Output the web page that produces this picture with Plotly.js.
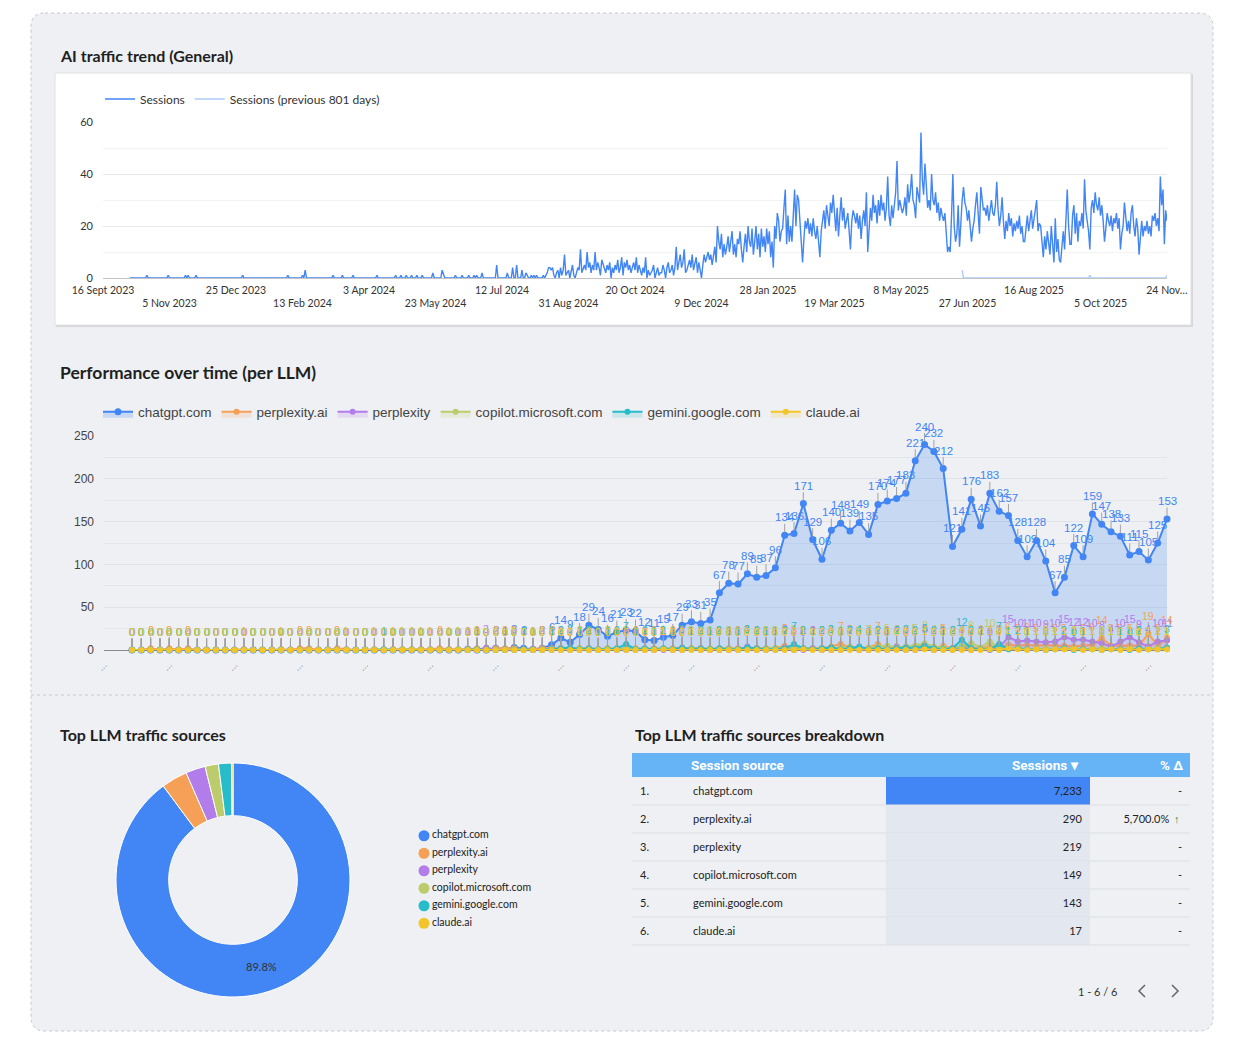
<!DOCTYPE html>
<html><head><meta charset="utf-8">
<script src="https://cdn.plot.ly/plotly-3.0.1.min.js"></script>
<style>html,body{margin:0;padding:0;background:#fff;}#chart{width:1234px;height:1050px;}</style>
</head><body><div id="chart"></div>
<script>
// ---------------- DATA ----------------
const dailyStart = '2023-09-16';
const dailySessions = [
null,null,null,null,null,null,null,
null,null,null,null,null,null,null,
null,null,null,null,null,null,0,
0,0,0,0,0,0,0,
0,0,0,0,0,1,0,
0,0,0,0,0,0,0,
0,0,0,0,0,0,0,
1,0,0,0,0,0,0,
0,0,0,0,0,0,1,
0,1,0,0,0,0,0,
1,0,0,0,0,0,0,
0,0,0,0,0,0,0,
0,0,0,0,0,0,0,
0,0,0,0,0,0,0,
0,0,0,0,0,0,0,
1,0,0,0,0,0,0,
0,0,0,0,0,0,0,
0,0,0,0,0,0,0,
0,0,0,0,0,0,0,
0,0,0,0,0,0,1,
0,0,0,0,0,0,0,
0,0,0,1,0,3,0,
0,0,0,0,0,0,0,
0,0,0,0,0,0,0,
0,0,0,0,0,1,0,
0,0,0,0,0,1,0,
0,0,0,0,0,0,1,
0,0,0,0,0,0,0,
0,0,0,0,0,0,0,
0,0,0,1,0,0,0,
0,0,0,0,0,0,0,
0,0,0,1,0,0,0,
1,0,0,0,1,0,0,
0,1,0,0,0,1,0,
0,0,1,0,0,0,0,
0,0,0,2,0,0,0,
0,0,0,3,1,0,0,
0,0,0,0,0,0,1,
0,0,0,0,1,0,0,
0,0,1,0,0,0,1,
0,1,0,0,0,2,0,
0,0,0,0,0,0,0,
0,0,5,0,0,0,0,
0,0,0,2,0,0,0,
4,0,0,5,0,0,0,
3,0,0,2,1,0,0,
1,0,1,0,1,0,0,
0,0,1,0,1,2,4,
4,3,4,1,0,2,3,
0,4,1,3,9,1,2,
3,0,2,5,1,0,2,
4,3,11,2,4,5,3,
10,4,6,2,5,3,10,
3,6,4,1,7,5,3,
2,5,3,6,0,4,2,
5,3,7,2,4,8,1,
6,4,7,3,5,2,4,
6,3,8,2,5,3,1,
4,2,8,0,3,1,2,
3,5,0,2,4,1,2,
2,5,3,0,4,6,2,
3,5,1,4,12,3,6,
9,4,6,11,2,3,5,
7,4,9,3,5,8,2,
6,3,0,5,9,6,8,
10,7,9,5,8,12,6,
20,14,11,17,8,13,9,
12,16,10,14,18,9,13,
8,15,13,18,11,6,12,
17,10,20,14,12,19,9,
14,20,11,17,8,19,12,
16,10,19,13,18,8,14,
4,20,15,25,22,14,18,
19,27,34,13,24,14,20,
14,27,34,20,32,30,22,
18,6,15,22,19,23,17,
21,16,23,18,15,20,12,
8,18,22,26,19,28,24,
20,29,25,32,24,18,27,
16,24,31,22,27,19,23,
25,18,11,22,26,24,21,
25,19,24,15,22,26,20,
33,10,20,27,22,32,25,
28,21,30,24,32,26,29,
22,27,39,24,20,28,23,
29,33,45,26,30,28,25,
27,31,24,36,29,33,40,
30,28,23,35,31,29,56,
38,32,44,36,27,30,26,
40,30,28,33,25,29,22,
27,24,22,25,18,10,12,
10,24,40,20,14,17,28,
12,22,30,35,29,27,22,
26,20,14,19,22,28,33,
25,17,35,29,26,27,24,
28,22,26,30,25,24,28,
37,26,20,24,31,22,15,
22,18,25,20,23,16,21,
18,22,19,24,17,20,14,
14,20,24,18,22,26,19,
23,28,30,18,21,20,13,
8,16,11,18,14,9,20,
12,6,23,10,15,7,6,
14,18,11,22,34,20,13,
13,24,28,17,25,14,22,
20,25,19,38,26,22,18,
11,27,30,25,33,28,26,
31,24,28,22,14,19,25,
22,20,24,18,23,21,25,
19,23,11,17,20,29,24,
18,22,17,25,28,20,16,
23,19,9,17,22,16,20,
18,22,17,20,16,24,22,
25,20,23,18,39,28,34,
13,26,22
];
// previous period, starts at day offset 646 of the current window
const prevStartDay = 646;
const prevSessions = [
3,0,0,0,0,0,0,0,0,0,
0,0,0,0,0,0,0,0,0,0,
0,0,0,0,0,0,0,0,0,0,
0,0,0,0,0,0,0,0,0,0,
0,0,0,0,0,0,0,0,0,0,
0,0,0,0,0,0,0,0,0,0,
0,0,0,0,0,0,0,0,0,0,
0,0,0,0,0,0,0,0,0,0,
0,0,0,0,0,0,0,0,0,0,
0,0,0,0,0,0,1,0,0,0,
0,0,0,0,0,0,0,0,0,0,
0,0,0,0,0,0,0,0,0,0,
0,0,0,0,0,0,0,0,0,0,
0,0,0,0,0,0,0,0,0,0,
0,0,0,0,0,0,0,0,0,0,
0,0,0,0,1
];
const topTickDates = ['2023-09-16','2023-11-05','2023-12-25','2024-02-13','2024-04-03','2024-05-23','2024-07-12','2024-08-31','2024-10-20','2024-12-09','2025-01-28','2025-03-19','2025-05-08','2025-06-27','2025-08-16','2025-10-05','2025-11-24'];
const topTickLabels = ['16 Sept 2023','5 Nov 2023','25 Dec 2023','13 Feb 2024','3 Apr 2024','23 May 2024','12 Jul 2024','31 Aug 2024','20 Oct 2024','9 Dec 2024','28 Jan 2025','19 Mar 2025','8 May 2025','27 Jun 2025','16 Aug 2025','5 Oct 2025','24 Nov…'];

const sources = ['chatgpt.com','perplexity.ai','perplexity','copilot.microsoft.com','gemini.google.com','claude.ai'];
const sourceColors = ['#4285f4','#f6a057','#b27cea','#bccb6b','#27bcc9','#f2c62b'];
const totalSessions = [7233,290,219,149,143,17];
const pctChange = ['-','5,700.0%','-','-','-','-'];
const pctUp = [false,true,false,false,false,false];
const tableHeaders = ['Session source','Sessions ▾','% Δ'];

const wkChatgpt = [
null,null,null,0,0,0,0,0,0,0,
0,0,0,0,0,0,0,0,0,0,
0,0,0,0,0,0,0,0,0,0,
0,0,0,0,0,0,0,0,0,1,
0,0,2,1,3,2,1,2,6,14,
9,18,29,24,16,21,23,22,12,11,
15,17,29,33,31,35,67,78,77,89,
85,87,96,134,136,171,129,106,140,148,
139,149,135,170,174,177,183,221,240,232,
212,121,141,176,145,183,162,157,128,109,
128,104,67,85,122,109,159,147,138,133,
111,115,105,125,153];
const wkPerplexityAi = [
null,null,null,0,0,2,0,2,0,2,
0,0,0,0,0,1,0,0,0,1,
0,2,2,0,0,2,1,0,0,1,
0,1,1,1,1,1,2,1,1,1,
2,0,2,2,2,1,1,2,2,2,
1,2,2,1,2,1,2,2,1,2,
1,2,2,2,2,1,2,2,2,3,
2,2,2,5,2,2,2,2,4,7,
3,2,3,7,2,4,2,5,4,2,
5,2,4,3,2,4,2,6,5,6,
5,6,5,5,4,5,6,14,5,5,
5,5,19,5,14];
const wkPerplexity = [
null,null,null,0,0,0,0,0,0,0,
0,0,0,0,0,0,0,0,0,0,
0,0,0,0,0,0,0,0,0,0,
0,0,0,0,0,0,0,0,0,0,
0,3,0,0,0,0,0,0,0,0,
0,0,0,0,0,0,0,0,1,0,
0,0,0,1,0,0,0,0,0,4,
0,0,0,3,0,0,2,0,0,0,
3,0,0,2,0,4,0,0,3,0,
2,0,3,0,2,0,3,15,10,11,
10,9,10,15,12,12,10,8,4,10,
15,9,4,10,11];
const wkCopilot = [
null,null,null,0,0,0,0,0,0,0,
0,0,0,0,0,0,0,0,0,0,
0,0,0,0,0,0,0,0,0,0,
0,0,1,1,0,0,0,0,1,0,
0,0,0,0,1,0,0,0,1,0,
1,2,1,0,2,1,2,1,0,1,
2,1,1,2,1,2,1,2,1,2,
1,2,2,2,3,2,1,2,3,2,
4,2,3,4,5,3,4,5,8,4,
3,2,4,8,3,10,3,1,2,1,
1,2,1,1,2,1,1,2,1,1,
2,1,1,2,1];
const wkGemini = [
null,null,null,0,0,0,0,0,0,0,
0,0,0,0,0,0,0,0,0,0,
0,0,0,0,0,0,0,0,0,0,
1,0,0,0,0,0,0,0,0,0,
1,0,0,0,0,1,0,0,1,2,
3,1,2,1,1,2,7,1,2,1,
2,1,3,1,2,1,2,1,1,3,
2,1,1,2,7,2,1,2,3,1,
2,4,1,2,1,2,3,2,5,2,
1,2,12,2,1,1,7,1,2,1,
1,0,1,2,0,1,1,0,1,1,
0,2,1,1,3];
const wkClaude = [
null,null,null,0,0,0,0,0,0,0,
0,0,0,0,0,0,0,0,0,0,
0,0,0,0,0,0,0,0,0,0,
0,0,0,0,0,0,0,0,0,0,
0,0,0,0,0,0,0,0,0,0,
0,0,0,0,0,0,0,0,0,0,
1,0,0,0,0,0,0,0,0,0,
0,0,0,0,0,1,0,0,0,0,
0,0,0,0,0,0,0,0,1,0,
0,0,0,0,0,1,0,2,1,0,
1,0,1,1,1,0,1,0,1,0,
1,0,1,1,1];
const weeklySeries = [wkChatgpt, wkPerplexityAi, wkPerplexity, wkCopilot, wkGemini, wkClaude];
const weekTickIdx = [0,7,14,21,28,35,42,49,56,63,70,77,84,91,98,105,112];
const weekTickLabels = weekTickIdx.map(()=> '...');

// ---------------- HELPERS ----------------
const W=1234, H=1050;
const px = x => x/W, py = y => 1 - y/H;
function dayStr(offset){
  const d = new Date(dailyStart + 'T00:00:00Z');
  d.setUTCDate(d.getUTCDate() + offset);
  return d.toISOString().slice(0,10);
}
const dailyDates = dailySessions.map((_, i) => dayStr(i));
const prevDates = prevSessions.map((_, i) => dayStr(prevStartDay + i));
const weekIdx = wkChatgpt.map((_, i) => i);
function P(pts){ return 'M ' + pts.map(p => px(p[0]) + ',' + py(p[1])).join(' L '); }
function roundRect(x0,y0,x1,y1,r){
  const c = (x,y) => px(x)+','+py(y);
  return 'M '+c(x0+r,y0)+' L '+c(x1-r,y0)+' Q '+c(x1,y0)+' '+c(x1,y0+r)+
    ' L '+c(x1,y1-r)+' Q '+c(x1,y1)+' '+c(x1-r,y1)+' L '+c(x0+r,y1)+
    ' Q '+c(x0,y1)+' '+c(x0,y1-r)+' L '+c(x0,y0+r)+' Q '+c(x0,y0)+' '+c(x0+r,y0)+' Z';
}
function rgba(hex,a){
  const n = parseInt(hex.slice(1),16);
  return 'rgba('+((n>>16)&255)+','+((n>>8)&255)+','+(n&255)+','+a+')';
}

const CAL = 'Lato, "Open Sans", sans-serif';
const ARIAL = '"Liberation Sans", Arial, sans-serif';
const bg = '#eef0f3';

// ---------------- TRACES ----------------
const data = [];
data.push({type:'scatter', mode:'lines', x: prevDates, y: prevSessions, name:'Sessions (previous 801 days)',
  line:{color:'#aecbfa', width:1.4}, legend:'legend', legendrank:2, xaxis:'x', yaxis:'y'});
data.push({type:'scatter', mode:'lines', x: dailyDates, y: dailySessions, name:'Sessions',
  line:{color:'#4285f4', width:1.4}, legend:'legend', legendrank:1, xaxis:'x', yaxis:'y', connectgaps:false});

weeklySeries.forEach((arr, s) => {
  data.push({type:'scatter', mode:'lines+markers', x: weekIdx, y: arr, name: sources[s],
    xaxis:'x2', yaxis:'y2', legend:'legend2', cliponaxis:false,
    line:{color: sourceColors[s], width:2},
    marker:{color: sourceColors[s], size: s===0 ? 7 : 6},
    fill:'tozeroy', fillcolor: rgba(sourceColors[s], s===0 ? 0.22 : 0.18)});
});

data.push({type:'pie', values: totalSessions, labels: sources, sort:false, direction:'clockwise', rotation:0,
  hole:0.55, marker:{colors: sourceColors, line:{color:'#ffffff', width:1}},
  domain:{x:[px(116), px(350)], y:[py(997), py(763)]},
  texttemplate: sources.map((_, i) => i===0 ? '%{percent:.1%}' : ''),
  textposition:'inside', insidetextorientation:'horizontal',
  textfont:{family:CAL, size:11, color:'#333'}, showlegend:false});

// donut legend (circle swatches + names)
data.push({type:'scatter', mode:'markers+text', x: sources.map(()=>0), y: sources.map((_, i)=>i),
  text: sources, textposition:'middle right', xaxis:'x3', yaxis:'y3', showlegend:false, cliponaxis:false,
  marker:{color: sourceColors, size:11, symbol:'circle'},
  textfont:{family:CAL, size:10.5, color:'#222'}, hoverinfo:'skip'});

// table (text layer; header bar and heat-coloured Sessions cells drawn behind it)
const tableTop = 753, headerH = 24, rowH = 28, bodyTop = tableTop + headerH;
const rowNums = sources.map((_, i) => (i+1) + '.');
const sessFmt = totalSessions.map(v => v.toLocaleString('en-US'));
const pctFmt = pctChange.map((v, i) => pctUp[i] ? v + '\u2007\u2007' : v);
data.push({type:'table',
  domain:{x:[px(632), px(1190)], y:[py(bodyTop + rowH*6 + 10), py(bodyTop - 14)]},
  columnwidth:[53, 201, 204, 100],
  header:{values:[], height:0, line:{width:0}, fill:{color:'rgba(0,0,0,0)'}},
  cells:{values:[rowNums, sources, sessFmt, pctFmt],
    align:['left','left','right','right'], height:rowH,
    fill:{color:'rgba(0,0,0,0)'}, line:{color:'rgba(0,0,0,0)', width:0},
    font:{family:CAL, size:11, color:'#222'}}
});

// ---------------- ANNOTATIONS ----------------
const annotations = [];
[['AI traffic trend (General)', 60, 55, 16], ['Performance over time (per LLM)', 60, 372, 17.5],
 ['Top LLM traffic sources', 60, 734, 16], ['Top LLM traffic sources breakdown', 635, 734, 16]].forEach(t => {
  annotations.push({xref:'paper', yref:'paper', x:px(t[1]-2), y:py(t[2]), xanchor:'left', yanchor:'middle',
    text:'<b>'+t[0]+'</b>', showarrow:false, font:{family:CAL, size:t[3], color:'#1f1f1f'}});
});
weeklySeries.forEach((arr, s) => {
  arr.forEach((v, i) => {
    if (v === null) return;
    annotations.push({xref:'x2', yref:'y2', x:i, y:v, text:String(v), showarrow:true, arrowhead:0,
      arrowwidth:1, arrowcolor:'#a0a0a0', ax:0, ay:-18, standoff:3, borderpad:0,
      font:{family:ARIAL, size: s===0 ? 11.5 : 10.5, color: sourceColors[s]}});
  });
});
// table header texts
const hdrFont = {family:'Roboto, sans-serif', size:13.5, color:'#ffffff'};
annotations.push({xref:'paper', yref:'paper', x:px(689), y:py(tableTop + headerH/2), xanchor:'left', yanchor:'middle',
  text:'<b>'+tableHeaders[0]+'</b>', showarrow:false, font:hdrFont});
annotations.push({xref:'paper', yref:'paper', x:px(1081), y:py(tableTop + headerH/2), xanchor:'right', yanchor:'middle',
  text:'<b>'+tableHeaders[1]+'</b>', showarrow:false, font:hdrFont});
annotations.push({xref:'paper', yref:'paper', x:px(1185), y:py(tableTop + headerH/2), xanchor:'right', yanchor:'middle',
  text:'<b>'+tableHeaders[2]+'</b>', showarrow:false, font:hdrFont});
// green up-arrow next to the % change value
pctUp.forEach((u, i) => {
  if (!u) return;
  annotations.push({xref:'paper', yref:'paper', x:px(1177), y:py(bodyTop + rowH*i + rowH/2), xanchor:'center', yanchor:'middle',
    text:'<b>↑</b>', showarrow:false, font:{family:ARIAL, size:11, color:'#1e8e3e'}});
});
annotations.push({xref:'paper', yref:'paper', x:px(1097), y:py(991), xanchor:'center', yanchor:'middle',
  text:'1 - 6 / 6', showarrow:false, font:{family:CAL, size:11, color:'#333'}});

// ---------------- SHAPES ----------------
const shapes = [
  {type:'path', xref:'paper', yref:'paper', layer:'below', path: roundRect(31,13,1213,1031,14),
    fillcolor:bg, line:{color:'#c5c9ce', width:1, dash:'dot'}},
  {type:'line', xref:'paper', yref:'paper', layer:'below', x0:px(31), x1:px(1213), y0:py(695), y1:py(695),
    line:{color:'#c5c9ce', width:1, dash:'dot'}},
  {type:'rect', xref:'paper', yref:'paper', layer:'below', x0:px(56), x1:px(1193), y0:py(327), y1:py(74),
    fillcolor:'rgba(0,0,0,0.10)', line:{width:0}},
  {type:'rect', xref:'paper', yref:'paper', layer:'below', x0:px(55), x1:px(1191), y0:py(325), y1:py(73),
    fillcolor:'#ffffff', line:{color:'#e2e2e2', width:1}},
  {type:'rect', xref:'paper', yref:'paper', layer:'below', x0:px(632), x1:px(1190), y0:py(bodyTop), y1:py(tableTop),
    fillcolor:'#66b3f5', line:{width:0}},
  {type:'path', xref:'paper', yref:'paper', path: P([[1145,985],[1139,991],[1145,997]]), line:{color:'#666', width:1.5}},
  {type:'path', xref:'paper', yref:'paper', path: P([[1172,985],[1178,991],[1172,997]]), line:{color:'#666', width:1.5}}
];
const maxSess = Math.max(...totalSessions);
totalSessions.forEach((v, i) => {
  const y0 = bodyTop + rowH*i, y1 = y0 + rowH;
  // heat-coloured Sessions cell
  shapes.push({type:'rect', xref:'paper', yref:'paper', layer:'below', x0:px(886), x1:px(1090), y0:py(y1), y1:py(y0),
    fillcolor: v === maxSess ? '#4285f4' : '#e2e7f0', line:{width:0}});
  // row separator
  shapes.push({type:'line', xref:'paper', yref:'paper', layer:'below', x0:px(632), x1:px(1190), y0:py(y1), y1:py(y1),
    line:{color:'#dcdfe3', width:1}});
});

// ---------------- LAYOUT ----------------
const layout = {
  width:W, height:H, margin:{l:0,r:0,t:0,b:0}, paper_bgcolor:'#ffffff', plot_bgcolor:'rgba(0,0,0,0)',
  showlegend:true, hovermode:'closest',
  xaxis:{domain:[px(103), px(1167)], anchor:'y', type:'date', range:['2023-09-16','2025-11-24'],
    tickvals: topTickDates, ticktext: topTickLabels.map((t,i)=> i%2 ? '<br>'+t : t), tickangle:0,
    showgrid:false, zeroline:false, ticks:'', ticklabelstandoff:4,
    tickfont:{family:CAL, size:10.5, color:'#333'}, fixedrange:true},
  yaxis:{domain:[py(278), py(122)], anchor:'x', range:[0,60], tickvals:[0,20,40,60],
    gridcolor:'#e8e8e8', minor:{dtick:10, showgrid:true, gridcolor:'#f3f3f3'},
    zeroline:true, zerolinecolor:'#c4c4c4', zerolinewidth:1, ticks:'', ticklabelstandoff:9,
    tickfont:{family:CAL, size:11, color:'#333'}, fixedrange:true},
  xaxis2:{domain:[px(104), px(1167)], anchor:'y2', range:[0,114], tickvals: weekTickIdx, ticktext: weekTickLabels,
    tickangle:-45, showgrid:false, zeroline:false, ticks:'', ticklabelstandoff:6,
    tickfont:{family:ARIAL, size:10, color:'#777'}, fixedrange:true},
  yaxis2:{domain:[py(650), py(436)], anchor:'x2', range:[0,250], tickvals:[0,50,100,150,200,250],
    gridcolor:'#dfe2e6', minor:{dtick:25, showgrid:true, gridcolor:'#e3e6e9'},
    zeroline:true, zerolinecolor:'#8a8a8a', zerolinewidth:1, ticks:'', ticklabelstandoff:9,
    tickfont:{family:ARIAL, size:12, color:'#444'}, fixedrange:true},
  xaxis3:{domain:[px(424), px(700)], anchor:'y3', range:[0,1], visible:false, fixedrange:true},
  yaxis3:{domain:[py(932), py(827)], anchor:'x3', range:[5.5,-0.5], visible:false, fixedrange:true},
  legend:{x:px(100), y:py(99), xanchor:'left', yanchor:'middle', orientation:'h', bgcolor:'rgba(0,0,0,0)',
    font:{family:CAL, size:12, color:'#333'}, traceorder:'normal'},
  legend2:{x:px(98), y:py(412), xanchor:'left', yanchor:'middle', orientation:'h', bgcolor:'rgba(0,0,0,0)',
    font:{family:ARIAL, size:13.5, color:'#444'}},
  annotations, shapes
};

Plotly.newPlot('chart', data, layout, {displayModeBar:false, responsive:false});
</script></body></html>
